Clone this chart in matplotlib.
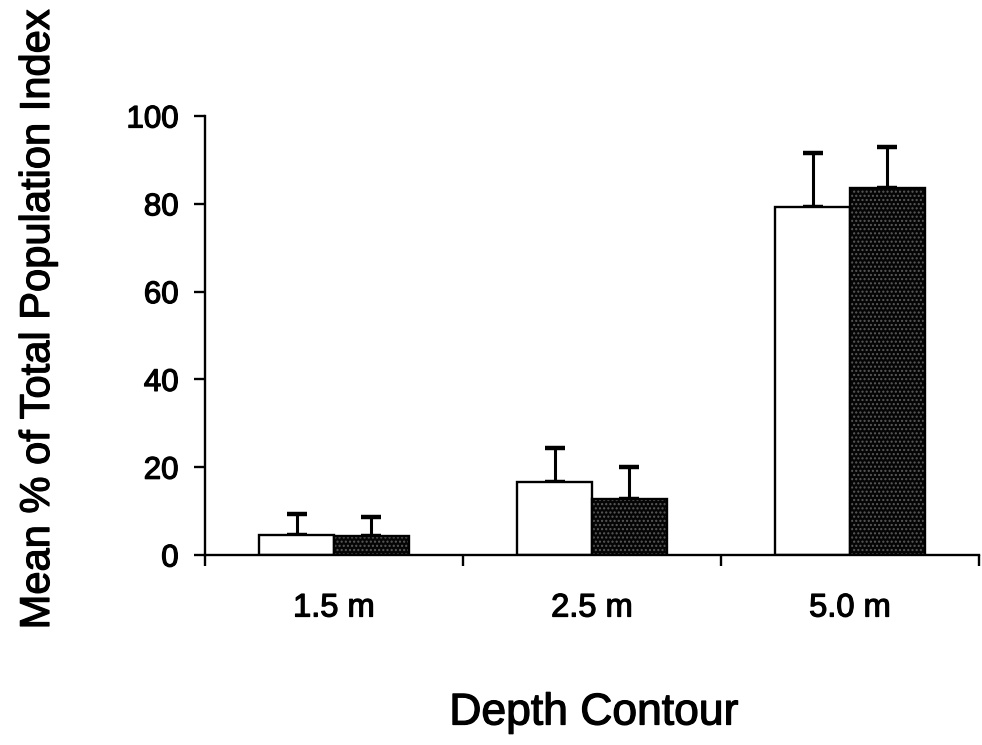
import matplotlib
matplotlib.use("Agg")
import matplotlib.pyplot as plt
import matplotlib.patheffects as pe
import numpy as np

plt.rcParams['font.family'] = ['Liberation Sans', 'DejaVu Sans']
plt.rcParams['hatch.linewidth'] = 1.0

depths = ["1.5 m", "2.5 m", "5.0 m"]
open_means = [4.6, 16.6, 79.3]
open_err = [4.7, 7.8, 12.3]
shaded_means = [4.3, 12.8, 83.6]
shaded_err = [4.4, 7.2, 9.4]
y_ticks = [0, 20, 40, 60, 80, 100]

# slightly heavier glyph strokes for all text
heavy = [pe.withStroke(linewidth=0.9, foreground='black')]

fig = plt.figure(figsize=(9.82, 7.45), dpi=100)
ax = fig.add_axes([205 / 982, 1 - 555 / 745, 774 / 982, (555 - 116) / 745])

centers = np.arange(len(depths)) + 0.5
w = 0.29
lw = 1.7

# open bars
ax.bar(centers - w / 2, open_means, width=w, color='white', edgecolor='black',
       linewidth=lw, zorder=3)
# stippled dark bars: near-black fill, light dot hatch, black outline
ax.bar(centers + w / 2, shaded_means, width=w, color='#050505', edgecolor='none',
       linewidth=0, zorder=3)
ax.bar(centers + w / 2, shaded_means, width=w, facecolor='none', edgecolor='#5a5a5a',
       hatch='....', linewidth=0, zorder=3.1)
ax.bar(centers + w / 2, shaded_means, width=w, facecolor='none', edgecolor='black',
       linewidth=lw, zorder=3.2)

# upper error bars only
ax.errorbar(centers - w / 2, open_means, yerr=[np.zeros(3), open_err], fmt='none',
            ecolor='black', elinewidth=2.2, capsize=7, capthick=3.2, zorder=2)
ax.errorbar(centers + w / 2, shaded_means, yerr=[np.zeros(3), shaded_err], fmt='none',
            ecolor='black', elinewidth=2.2, capsize=7, capthick=3.2, zorder=2)

ax.set_xlim(0, 3)
ax.set_ylim(0, 100)
ax.spines['top'].set_visible(False)
ax.spines['right'].set_visible(False)
ax.spines['left'].set_linewidth(1.7)
ax.spines['bottom'].set_linewidth(1.7)
ax.spines['bottom'].set_zorder(4)

ax.set_yticks(y_ticks)
ax.set_yticklabels([str(t) for t in y_ticks], fontsize=22.5)
ax.tick_params(axis='y', direction='out', length=8, width=1.7, pad=11)

ax.set_xticks([0, 1, 2, 3])
ax.set_xticklabels([])
ax.set_xticks(centers, minor=True)
ax.set_xticklabels(depths, minor=True, fontsize=23.5)
ax.tick_params(axis='x', which='major', direction='out', length=8, width=1.7)
ax.tick_params(axis='x', which='minor', length=0, pad=27)

for t in ax.get_yticklabels() + ax.get_xticklabels(minor=True):
    t.set_path_effects(heavy)

fig.text(38 / 982, 1 - 320 / 745, "Mean % of Total Population Index", rotation=90,
         ha='center', va='center', fontsize=30, path_effects=heavy)
fig.text(594 / 982, 1 - 713 / 745, "Depth Contour", ha='center', va='center',
         fontsize=32, path_effects=heavy)

fig.savefig("out.png", dpi=100)
